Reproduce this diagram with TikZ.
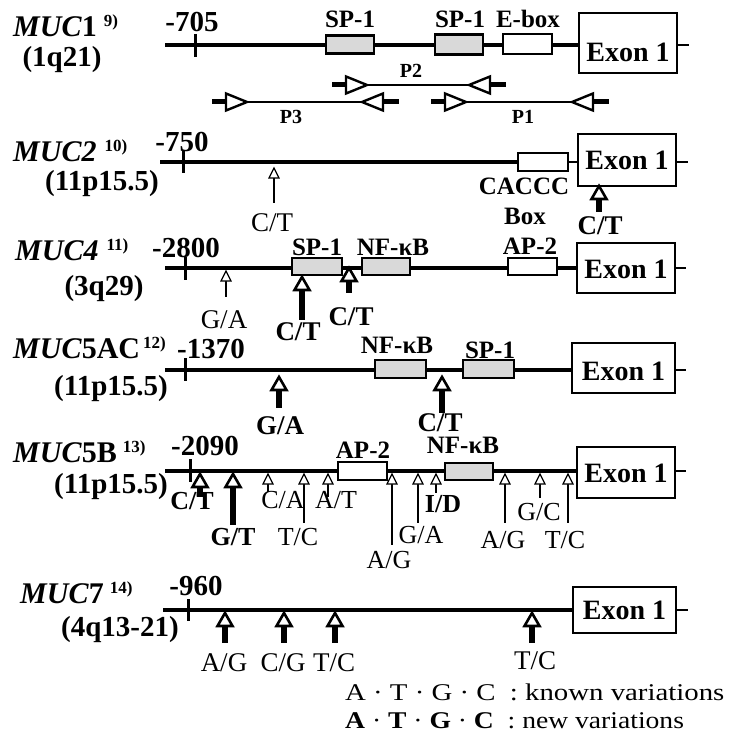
\documentclass[tikz,border=0pt]{standalone}
\usepackage{fontspec}
\setmainfont{Liberation Serif}
\usepackage{graphicx}
\newcommand{\KnownArr}[3]{%
  \draw[line width=1.4] (#1,#2+9) -- (#1,#3);
  \draw[line width=1.2,fill=white,line join=miter] (#1,#2) -- (#1-5,#2+10) -- (#1+5,#2+10) -- cycle;}
\newcommand{\NewArr}[3]{%
  \draw[line width=5.5] (#1,#2+12) -- (#1,#3);
  \draw[line width=2.6,fill=white,line join=miter] (#1,#2) -- (#1-7.5,#2+13) -- (#1+7.5,#2+13) -- cycle;}
\newcommand{\PrimerR}[2]{%
  \draw[line width=5] (#1,#2) -- (#1+15,#2);
  \draw[line width=2.4,fill=white,line join=miter] (#1+14,#2-8.5) -- (#1+35,#2) -- (#1+14,#2+8.5) -- cycle;}
\newcommand{\PrimerL}[2]{%
  \draw[line width=5] (#1+20,#2) -- (#1+37,#2);
  \draw[line width=2.4,fill=white,line join=miter] (#1+21,#2-8.5) -- (#1,#2) -- (#1+21,#2+8.5) -- cycle;}
\newcommand{\Sup}[1]{\raisebox{10pt}{\fontsize{17}{17}\selectfont #1}}
\tikzset{
  gene/.style={font=\fontsize{30}{32}\selectfont\bfseries, inner sep=0, anchor=base west},
  chrom/.style={font=\fontsize{29}{31}\selectfont\bfseries, inner sep=0, anchor=base},
  posn/.style={font=\fontsize{29}{31}\selectfont\bfseries, inner sep=0, anchor=base},
  elem/.style={font=\fontsize{25}{27}\selectfont\bfseries, inner sep=0, anchor=base},
  exontxt/.style={font=\fontsize{28}{30}\selectfont\bfseries, inner sep=0, anchor=base},
  kn/.style={font=\fontsize{27}{29}\selectfont, inner sep=0, anchor=base},
  nw/.style={font=\fontsize{27}{29}\selectfont\bfseries, inner sep=0, anchor=base},
  knb/.style={font=\fontsize{26}{28}\selectfont, inner sep=0, anchor=base},
  nwb/.style={font=\fontsize{26}{28}\selectfont\bfseries, inner sep=0, anchor=base},
  plab/.style={font=\fontsize{20}{22}\selectfont\bfseries, inner sep=0, anchor=base},
  exonbox/.style={draw, line width=1.4, fill=white, inner sep=0},
  spbox/.style={draw, line width=2.6, fill=gray!30, inner sep=0, minimum height=17},
  wbox/.style={draw, line width=1.4, fill=white, inner sep=0, minimum height=18},
  mainline/.style={line width=3.2},
  tickm/.style={line width=3},
  legend/.style={font=\fontsize{24}{26}\selectfont, inner sep=0, anchor=base west}
}
\begin{document}
\begin{tikzpicture}[x=1pt,y=-1pt]
\useasboundingbox (0,0) rectangle (737,751);
% ================= MUC1
\node[gene] (g1) at (13,37) {\textit{MUC}1\hspace{7pt}\Sup{9)}};
\node[chrom] (c1) at (62,67) {(1q21)};
\coordinate (s1) at (165,45);
\node[exonbox, minimum width=98, minimum height=60] (e1) at (628,43) {};
\draw[mainline] (s1) -- (e1.west |- s1);
\draw[line width=2.5] (e1.east |- s1) -- ++(11,0);
\draw[tickm] (195,34) -- (195,57);
\node[posn] (p1) at (192,32) {-705};
\node[spbox, minimum width=48, minimum height=18] (b11) at (350,44.5) {};
\node[spbox, minimum width=48, minimum height=20] (b12) at (459,44.5) {};
\node[wbox, minimum width=49, minimum height=20] (b13) at (527.5,44) {};
\node[elem] (t11) at (350,28) {SP-1};
\node[elem] (t12) at (460,28) {SP-1};
\node[elem] (t13) at (528,28) {E-box};
\node[exontxt] (x1) at (628,62) {Exon 1};
% primers
\draw[line width=1.3] (367,85) -- (470,85);
\PrimerR{332}{85}
\PrimerL{469}{85}
\node[plab] (pp2) at (411,78) {P2};
\draw[line width=1.3] (247,102) -- (363,102);
\PrimerR{212}{102}
\PrimerL{362}{102}
\node[plab] (pp3) at (291,124) {P3};
\draw[line width=1.3] (466,102) -- (573,102);
\PrimerR{431}{102}
\PrimerL{572}{102}
\node[plab] (pp1) at (523,124) {P1};
% ================= MUC2
\node[gene] (g2) at (13,162) {\textit{MUC2}\hspace{8pt}\Sup{10)}};
\node[chrom] (c2) at (102,191) {(11p15.5)};
\coordinate (s2) at (160,162);
\node[exonbox, minimum width=98, minimum height=52] (e2) at (627,160) {};
\node[wbox, minimum width=50, minimum height=18] (b21) at (543,162) {};
\draw[line width=4] (s2) -- (b21.west);
\draw[line width=2.2] (b21.east) -- (e2.west |- b21.east);
\draw[line width=2.5] (e2.east |- s2) -- ++(11,0);
\draw[tickm] (183,151) -- (183,173);
\node[posn] (p2) at (182,152) {-750};
\node[exontxt] (x2) at (627,170) {Exon 1};
\node[elem] (t21) at (524,195) {CACCC};
\node[elem] (t22) at (525,225) {Box};
\KnownArr{274}{168}{203}
\node[kn] (v21) at (272,231) {C/T};
\NewArr{599}{186}{212}
\node[nw] (v22) at (600,234) {C/T};
% ================= MUC4
\node[gene] (g4) at (15,260) {\textit{MUC4}\hspace{8pt}\Sup{11)}};
\node[chrom] (c4) at (104,295) {(3q29)};
\coordinate (s4) at (165,268);
\node[exonbox, minimum width=98, minimum height=50] (e4) at (626,268) {};
\draw[mainline] (s4) -- (e4.west |- s4);
\draw[line width=2.5] (e4.east |- s4) -- ++(10,0);
\draw[tickm] (185,257) -- (185,280);
\node[posn] (p4) at (186,257) {-2800};
\node[spbox, minimum width=50] (b41) at (317,266.5) {};
\node[spbox, minimum width=48] (b42) at (386,266.5) {};
\node[wbox, minimum width=49, minimum height=17] (b43) at (532.5,266.5) {};
\node[elem] (t41) at (317,255) {SP-1};
\node[elem] (t42) at (393,255) {NF-κB};
\node[elem] (t43) at (530,254) {AP-2};
\node[exontxt] (x4) at (626,278) {Exon 1};
\KnownArr{226}{271}{297}
\node[kn] (v41) at (224,328) {G/A};
\NewArr{302}{277}{320}
\node[nw] (v42) at (298,340) {C/T};
\NewArr{349}{268}{293}
\node[nw] (v43) at (351,325) {C/T};
% ================= MUC5AC
\node[gene] (g5) at (13,358) {\textit{MUC}5AC\hspace{3pt}\Sup{12)}};
\node[chrom] (c5) at (111,395) {(11p15.5)};
\coordinate (s5) at (165,370);
\node[exonbox, minimum width=103, minimum height=50] (e5) at (623.5,368) {};
\draw[mainline] (s5) -- (e5.west |- s5);
\draw[line width=2.5] (e5.east |- s5) -- ++(10,0);
\draw[tickm] (185,358) -- (185,381);
\node[posn] (p5) at (211,358) {-1370};
\node[spbox, minimum width=51, minimum height=18] (b51) at (400.5,369) {};
\node[spbox, minimum width=51, minimum height=18] (b52) at (488.5,369) {};
\node[elem] (t51) at (397,353) {NF-κB};
\node[elem] (t52) at (490,358) {SP-1};
\node[exontxt] (x5) at (623.5,380) {Exon 1};
\NewArr{279}{377}{408}
\node[nw] (v51) at (280,434) {G/A};
\NewArr{442}{377}{413}
\node[nw] (v52) at (440,431) {C/T};
% ================= MUC5B
\node[gene] (g6) at (13,462) {\textit{MUC}5B\hspace{6pt}\Sup{13)}};
\node[chrom] (c6) at (111,493) {(11p15.5)};
\coordinate (s6) at (165,471);
\node[exonbox, minimum width=98, minimum height=51] (e6) at (626,472.5) {};
\draw[mainline] (s6) -- (e6.west |- s6);
\draw[line width=2.5] (e6.east |- s6) -- ++(10,0);
\draw[tickm] (190,459) -- (190,482);
\node[posn] (p6) at (205,455) {-2090};
\node[wbox, minimum width=49, minimum height=18] (b61) at (362.5,471) {};
\node[spbox, minimum width=48] (b62) at (469,471.5) {};
\node[elem] (t61) at (363,458) {AP-2};
\node[elem] (t62) at (463,453) {NF-κB};
\node[exontxt] (x6) at (626,482) {Exon 1};
\NewArr{200}{474}{497}
\node[nwb] (v61) at (192,509) {C/T};
\NewArr{233}{474}{525}
\node[nwb] (v62) at (233,545) {G/T};
\KnownArr{268}{474}{492}
\node[knb] (v63) at (283,508) {C/A};
\KnownArr{304}{474}{523}
\node[knb] (v64) at (298,545) {T/C};
\KnownArr{328}{474}{497}
\node[knb] (v65) at (336,508) {A/T};
\KnownArr{392}{474}{545}
\node[knb] (v66) at (389,568) {A/G};
\KnownArr{418}{474}{523}
\node[knb] (v67) at (421,543) {G/A};
\KnownArr{436}{474}{493}
\node[nwb] (v68) at (443,512) {I/D};
\KnownArr{505}{474}{523}
\node[knb] (v69) at (503,548) {A/G};
\KnownArr{540}{474}{498}
\node[knb] (v6a) at (539,520) {G/C};
\KnownArr{568}{474}{523}
\node[knb] (v6b) at (565,548) {T/C};
% ================= MUC7
\node[gene] (g7) at (20,603) {\textit{MUC}7\hspace{6pt}\Sup{14)}};
\node[chrom] (c7) at (120,636) {(4q13-21)};
\coordinate (s7) at (163,610);
\node[exonbox, minimum width=103, minimum height=46] (e7) at (624.5,610) {};
\draw[mainline] (s7) -- (e7.west |- s7);
\draw[line width=2.5] (e7.east |- s7) -- ++(11,0);
\draw[tickm] (188,599) -- (188,621);
\node[posn] (p7) at (196,595) {-960};
\node[exontxt] (x7) at (624.5,619) {Exon 1};
\NewArr{225}{613}{643}
\node[kn] (v71) at (224,671) {A/G};
\NewArr{284}{613}{643}
\node[kn] (v72) at (283,671) {C/G};
\NewArr{335}{613}{643}
\node[kn] (v73) at (334,671) {T/C};
\NewArr{532}{613}{643}
\node[kn] (v74) at (535,669) {T/C};
% ================= legend
\node[legend] (l1) at (345,700) {\scalebox{1.2}[1]{A · T · G · C\ \ : known variations}};
\node[legend] (l2) at (345,728) {\scalebox{1.15}[1]{\textbf{A} · \textbf{T} · \textbf{G} · \textbf{C}\ \ : new variations}};
\end{tikzpicture}
\end{document}
